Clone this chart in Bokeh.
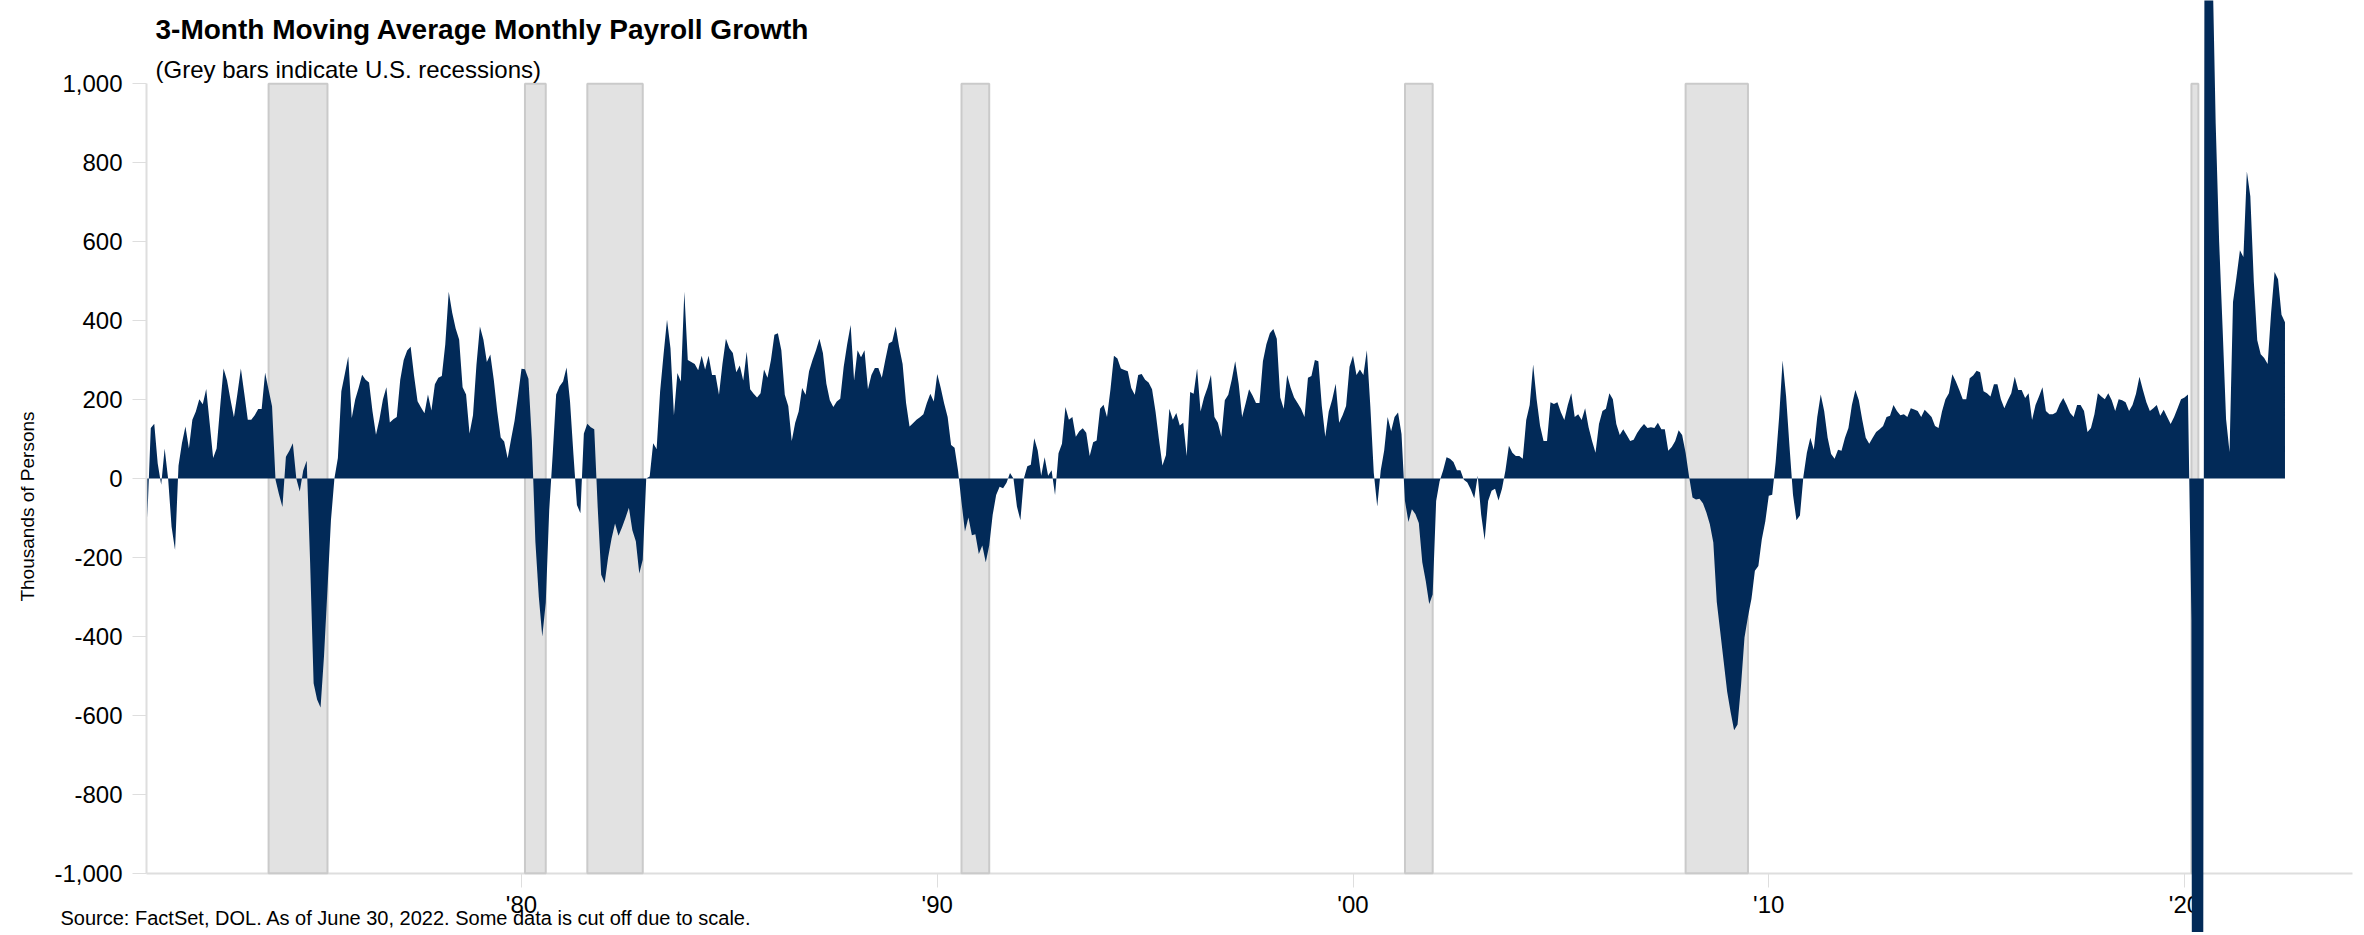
import math
from bokeh.plotting import figure
from bokeh.models import (Range1d, LinearAxis, FixedTicker, NumeralTickFormatter,
                          Label, ColumnDataSource)
from bokeh.embed import file_html
from bokeh.resources import INLINE

# ---------------- data (thousands of persons, 3-month moving average) ----------------
start_year = 1971  # first monthly observation: Jan 1971

payroll_1970s = [
    -100, 128, 139, 38, -16, 76, 0, -122, -181, 32, 90, 132,        # 1971
    76, 149, 170, 201, 188, 227, 140, 52, 76, 180, 279, 249,        # 1972
    200, 155, 215, 279, 215, 149, 149, 160, 176, 176, 268, 225,     # 1973
    183, -3, -40, -72, 55, 70, 89, 0, -33, 20, 45, -216,            # 1974
    -519, -560, -580, -450, -280, -106, 0, 52, 221, 265, 309, 153,  # 1975
    200, 230, 263, 250, 243, 170, 111, 150, 200, 231, 142, 150,     # 1976
    156, 250, 300, 324, 334, 260, 196, 180, 165, 213, 172, 239,     # 1977
    255, 260, 340, 473, 420, 380, 352, 231, 213, 114, 160, 288,     # 1978
    385, 352, 295, 314, 250, 170, 104, 94, 51, 100, 146, 210,       # 1979
]
payroll_1980s = [
    278, 277, 253, 97, -159, -300, -400, -315, -80, 60, 213, 234,       # 1980
    246, 281, 196, 60, -67, -88, 114, 139, 130, 125, -74, -244,         # 1981
    -265, -200, -152, -114, -145, -124, -100, -74, -131, -159, -241, -206,  # 1982
    0, 5, 89, 75, 220, 314, 402, 330, 160, 267, 246, 473,               # 1983
    300, 295, 290, 274, 311, 276, 311, 262, 262, 212, 290, 354,         # 1984
    330, 318, 269, 286, 248, 321, 226, 215, 205, 216, 276, 255,         # 1985
    300, 364, 368, 325, 212, 184, 95, 141, 170, 229, 212, 272,          # 1986
    300, 325, 354, 318, 240, 198, 181, 195, 202, 283, 340, 389,         # 1987
    248, 325, 307, 325, 226, 262, 280, 280, 255, 300, 342, 347,         # 1988
    385, 333, 290, 191, 132, 140, 149, 155, 163, 191, 215, 195,         # 1989
]
payroll_1990s = [
    265, 230, 190, 156, 85, 78, 20, -60, -134, -99, -144, -141,     # 1990
    -191, -170, -212, -170, -92, -42, -21, -25, -11, 14, 0, -71,    # 1991
    -106, 0, 31, 35, 102, 71, 7, 54, 7, 21, -42, 64,                # 1992
    88, 181, 149, 156, 106, 120, 127, 116, 57, 92, 96, 177,         # 1993
    187, 156, 226, 311, 304, 279, 275, 272, 229, 212, 262, 265,     # 1994
    250, 243, 226, 170, 99, 33, 59, 177, 149, 166, 134, 141,        # 1995
    57, 219, 215, 279, 170, 205, 230, 262, 156, 141, 106, 198,      # 1996
    212, 250, 297, 240, 156, 190, 226, 210, 191, 191, 297, 340,     # 1997
    368, 379, 354, 205, 177, 262, 230, 205, 191, 177, 156, 255,     # 1998
    260, 300, 297, 184, 106, 170, 200, 240, 141, 160, 184, 283,     # 1999
]
payroll_2000s = [
    311, 262, 276, 262, 325, 184, 14, -71, 20, 71, 156, 120,            # 2000
    156, 167, 113, -57, -110, -78, -90, -113, -212, -260, -318, -294,   # 2001
    -57, -7, 20, 54, 50, 42, 21, 21, -3, -10, -28, -50,                 # 2002
    7, -92, -156, -57, -31, -26, -56, -26, 20, 83, 65, 57,              # 2003
    57, 50, 148, 186, 289, 201, 133, 95, 95, 193, 189, 193,             # 2004
    168, 148, 186, 216, 156, 163, 148, 178, 130, 95, 65, 138,           # 2005
    171, 177, 216, 201, 138, 110, 125, 110, 95, 98, 115, 128,           # 2006
    138, 128, 130, 128, 141, 125, 125, 70, 80, 95, 122, 110,            # 2007
    65, 5, -48, -53, -51, -63, -86, -116, -162, -313, -388, -464,       # 2008
    -540, -592, -638, -623, -524, -403, -350, -305, -234, -222, -154, -109,  # 2009
]
payroll_2010s = [
    -44, -41, 42, 156, 299, 209, 80, -41, -106, -94, 5, 65,         # 2010
    103, 73, 156, 213, 171, 103, 62, 50, 73, 70, 103, 128,          # 2011
    186, 224, 198, 148, 103, 88, 103, 118, 125, 133, 156, 159,      # 2012
    186, 171, 160, 163, 156, 178, 175, 171, 156, 174, 165, 156,     # 2013
    133, 128, 170, 201, 216, 264, 246, 224, 201, 201, 254, 261,     # 2014
    273, 269, 221, 216, 208, 239, 239, 201, 178, 198, 216, 258,     # 2015
    224, 224, 204, 216, 148, 186, 208, 231, 171, 163, 163, 168,     # 2016
    189, 204, 186, 166, 156, 186, 186, 171, 118, 128, 163, 216,     # 2017
    208, 201, 216, 198, 171, 201, 198, 193, 171, 186, 215, 258,     # 2018
    224, 193, 171, 178, 186, 159, 174, 156, 138, 156, 178, 201,     # 2019
]
payroll_2020s = [
    205, 213, -360, -7288, -6440, -4264, 3135, 2718, 1342, 900, 600, 380,  # 2020
    150, 67, 447, 510, 578, 561, 778, 715, 500, 350, 315, 305,             # 2021
    290, 420, 523, 505, 415, 396,                                          # 2022 (Jan-Jun)
]

# recession shading (first and last month, exclusive end)
recession_start = ["1973-12", "1980-02", "1981-08", "1990-08", "2001-04", "2008-01", "2020-03"]
recession_end = ["1975-05", "1980-08", "1982-12", "1991-04", "2001-12", "2009-07", "2020-05"]

tick_years = [1980, 1990, 2000, 2010, 2020]
tick_labels = ["'80", "'90", "'00", "'10", "'20"]
y_ticks = [-1000, -800, -600, -400, -200, 0, 200, 400, 600, 800, 1000]

title_text = "3-Month Moving Average Monthly Payroll Growth"
subtitle_text = "(Grey bars indicate U.S. recessions)"
y_label_text = "Thousands of Persons"
footer_text = "Source: FactSet, DOL. As of June 30, 2022. Some data is cut off due to scale."

# ---------------- layout helpers (canvas pixel -> data) ----------------
W, H = 2356, 932
PX_PER_YEAR = 41.575
PX_PER_UNIT = 0.3947
ZERO_Y = 478.0
YEAR80_X = 521.0


def x_at(px):
    return 1980 + (px - YEAR80_X) / PX_PER_YEAR


def y_at(py):
    return (ZERO_Y - py) / PX_PER_UNIT


def ym_to_dec(s):
    y, m = s.split("-")
    return int(y) + (int(m) - 1) / 12.0


values = payroll_1970s + payroll_1980s + payroll_1990s + payroll_2000s + payroll_2010s + payroll_2020s
xs = [start_year + i / 12.0 for i in range(len(values))]
src = ColumnDataSource(data=dict(x=xs, y=values))

rec_src = ColumnDataSource(data=dict(
    left=[ym_to_dec(s) for s in recession_start],
    right=[ym_to_dec(s) for s in recession_end],
))

NAVY = "#022a58"
AXIS_GREY = "#dedede"
FONT = "Liberation Sans"

p = figure(width=W, height=H,
           x_range=Range1d(x_at(0), x_at(W)),
           y_range=Range1d(y_at(H), y_at(0)),
           output_backend="svg", toolbar_location=None,
           x_axis_type=None, y_axis_type=None, title=None,
           min_border=0, outline_line_color=None,
           background_fill_color="white", border_fill_color="white")

# recession bars
p.quad(left="left", right="right", bottom=-1000, top=1000, source=rec_src,
       fill_color="#e2e2e2", line_color="#cacaca", line_width=2)

# payroll area
p.varea(x="x", y1=0, y2="y", source=src, fill_color=NAVY)

axis_x = x_at(146)

xaxis = LinearAxis(fixed_location=-1000, bounds=(axis_x, x_at(2352)),
                   ticker=FixedTicker(ticks=tick_years),
                   major_label_overrides={t: l for t, l in zip(tick_years, tick_labels)})
xaxis.axis_line_color = AXIS_GREY
xaxis.axis_line_width = 2
xaxis.major_tick_line_color = AXIS_GREY
xaxis.major_tick_line_width = 1
xaxis.major_tick_in = 0
xaxis.major_tick_out = 14
xaxis.minor_tick_line_color = None
xaxis.major_label_text_font = FONT
xaxis.major_label_text_font_size = "24px"
xaxis.major_label_text_color = "#000000"
xaxis.major_label_standoff = 4
xaxis.level = "underlay"
p.add_layout(xaxis, "below")

yaxis = LinearAxis(fixed_location=axis_x, bounds=(-1000, 1000),
                   ticker=FixedTicker(ticks=y_ticks),
                   formatter=NumeralTickFormatter(format="0,0"))
yaxis.axis_line_color = AXIS_GREY
yaxis.axis_line_width = 2
yaxis.major_tick_line_color = AXIS_GREY
yaxis.major_tick_line_width = 1
yaxis.major_tick_in = 0
yaxis.major_tick_out = 14
yaxis.minor_tick_line_color = None
yaxis.major_label_text_font = FONT
yaxis.major_label_text_font_size = "24px"
yaxis.major_label_text_color = "#000000"
yaxis.major_label_standoff = 10
yaxis.level = "underlay"
p.add_layout(yaxis, "left")

p.add_layout(Label(x=x_at(155), y=y_at(29), text=title_text,
                   text_font=FONT, text_font_size="28px", text_font_style="bold",
                   text_color="#000000", text_baseline="alphabetic", text_align="left"))
p.add_layout(Label(x=x_at(155), y=y_at(69), text=subtitle_text,
                   text_font=FONT, text_font_size="24px",
                   text_color="#000000", text_baseline="alphabetic", text_align="left"))
p.add_layout(Label(x=x_at(27), y=y_at(506), text=y_label_text, angle=math.pi / 2,
                   text_font=FONT, text_font_size="19px",
                   text_color="#000000", text_baseline="middle", text_align="center"))
p.add_layout(Label(x=x_at(60), y=y_at(917), text=footer_text,
                   text_font=FONT, text_font_size="20px",
                   text_color="#000000", text_baseline="alphabetic", text_align="left"))

open("out.html", "w").write(file_html(p, INLINE))
